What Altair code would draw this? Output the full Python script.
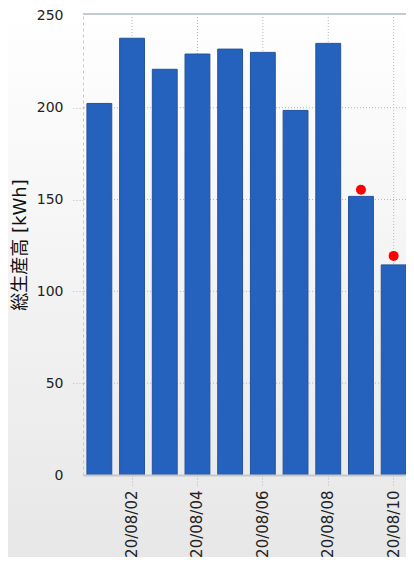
import altair as alt
import pandas as pd

dates = ["20/08/01", "20/08/02", "20/08/03", "20/08/04", "20/08/05",
         "20/08/06", "20/08/07", "20/08/08", "20/08/09", "20/08/10"]
values = [202.3, 237.8, 220.9, 229.2, 231.9, 230.1, 198.5, 235.0, 151.7, 114.4]
dot_dates = ["20/08/09", "20/08/10"]
dot_values = [155.3, 119.3]
y_ticks = [0, 50, 100, 150, 200, 250]
grid_y = [50, 100, 150, 200]
label_dates = ["20/08/02", "20/08/04", "20/08/06", "20/08/08", "20/08/10"]

W = 323
H = 461
BAND_RANGE = 327
FONT = "DejaVu Sans, Noto Sans CJK JP"

bars_df = pd.DataFrame({"date": dates, "value": values})
dots_df = pd.DataFrame({"date": dot_dates, "value": dot_values})
gy_df = pd.DataFrame({"value": grid_y})
gx_df = pd.DataFrame({"date": label_dates})
one = pd.DataFrame({"a": [0]})

xscale = alt.Scale(domain=dates, paddingInner=0.24, paddingOuter=0.12,
                   range=[0, BAND_RANGE])
yscale = alt.Scale(domain=[0, 251], nice=False)

x_axis = alt.Axis(values=label_dates, title=None, labelAngle=270,
                  labelFont=FONT, labelFontSize=15, labelColor="#222222",
                  labelPadding=5, tickSize=10, tickColor="#b8b8b8",
                  tickDash=[1, 2], domainColor="#c8c8c8", domainWidth=2,
                  grid=False, zindex=1)
y_axis = alt.Axis(values=y_ticks, title="総生産高 [kWh]",
                  titleFont=FONT, titleFontSize=18, titleFontWeight="normal",
                  titleColor="#111111", titlePadding=7,
                  labelFont=FONT, labelFontSize=14, labelColor="#222222",
                  labelPadding=9, tickSize=11, tickColor="#b8b8b8",
                  tickDash=[1, 2],
                  tickOpacity={"condition": {"test": "datum.value > 0 && datum.value < 250", "value": 1}, "value": 0},
                  domainColor="#c8c8c8", domainDash=[3, 3], domainWidth=1,
                  grid=False, zindex=1)


def X():
    return alt.X("date:O", scale=xscale, sort=dates, axis=x_axis)


def Y():
    return alt.Y("value:Q", scale=yscale, axis=y_axis)


bg = alt.Chart(one).mark_rect(
    fill=alt.Gradient(
        gradient="linear",
        stops=[alt.GradientStop(color="#ffffff", offset=0),
               alt.GradientStop(color="#e7e7e7", offset=1)],
        x1=0, x2=0, y1=0, y2=1,
    ),
).encode(
    x=alt.value(-80), x2=alt.value(W + 10),
    y=alt.value(-8), y2=alt.value(H + 85),
)

grid_h = alt.Chart(gy_df).mark_rule(
    color="#b8b8b8", strokeDash=[1, 2], strokeWidth=1
).encode(y=Y())

grid_v = alt.Chart(gx_df).mark_rule(
    color="#b8b8b8", strokeDash=[1, 2], strokeWidth=1
).encode(x=X())

top_line = alt.Chart(one).mark_rule(color="#c5cbd3", strokeWidth=2).encode(
    x=alt.value(0), x2=alt.value(W + 10), y=alt.value(0)
)

bars = alt.Chart(bars_df).mark_bar(
    color="#2462be", stroke="#24539c", strokeWidth=1
).encode(x=X(), y=Y())

dots = alt.Chart(dots_df).mark_circle(color="#ff0000", size=100, opacity=1).encode(
    x=X(), y=Y()
)

chart = alt.layer(bg, grid_h, grid_v, top_line, bars, dots).properties(
    width=W, height=H,
    autosize=alt.AutoSizeParams(type="none"),
    padding={"left": 75, "top": 6, "right": 0, "bottom": 82},
).configure_view(stroke=None).configure(background="#ffffff")

chart.save("out.html", embed_options={"renderer": "svg", "actions": False})
